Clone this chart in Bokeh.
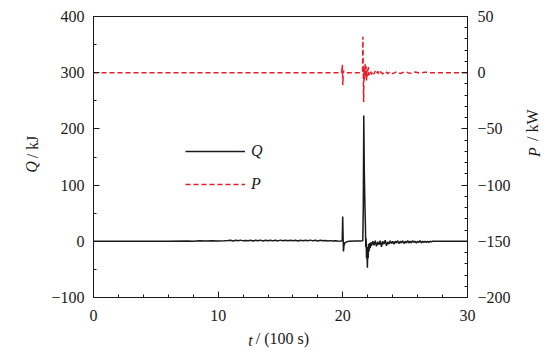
import math
from bokeh.plotting import figure
from bokeh.models import (Range1d, LinearAxis, SingleIntervalTicker, FixedTicker,
                          CustomJSTickFormatter, Legend, LegendItem)
from bokeh.embed import file_html
from bokeh.resources import INLINE

# ---- data ----
t_q = [0, 3, 6, 7.5, 8.0, 8.5, 9.0, 9.5, 10.0, 10.5, 10.8,
       11.0, 11.2, 11.4, 11.6, 11.8, 12.0, 12.2, 12.4, 12.6, 12.8,
       13.0, 13.2, 13.4, 13.6, 13.8, 14.0, 14.2, 14.4, 14.6, 14.8,
       15.0, 15.2, 15.4, 15.6, 15.8, 16.0, 16.2, 16.4, 16.6, 16.8,
       17.0, 17.2, 17.4, 17.6, 17.8, 18.0, 18.2, 18.4, 18.6, 18.8,
       19.0, 19.2, 19.4,
       19.6, 19.8, 19.95, 19.99, 20.02, 20.05, 20.09, 20.15, 20.3, 20.5,
       21.0, 21.4, 21.6, 21.64, 21.68, 21.72, 21.75, 21.78, 21.81, 21.84,
       21.87, 21.9, 21.93, 21.97, 22.0, 22.03, 22.06, 22.1, 22.14, 22.2,
       22.25,
       22.3, 22.4, 22.5, 22.6, 22.7, 22.8, 22.9, 23.0, 23.1, 23.2,
       23.3, 23.4, 23.5, 23.6, 23.7, 23.8, 23.9, 24.0, 24.1, 24.2,
       24.3, 24.4, 24.5, 24.6, 24.7, 24.8, 24.9, 25.0, 25.1, 25.2,
       25.3, 25.4, 25.5, 25.6, 25.7, 25.8, 25.9, 26.0, 26.1, 26.2,
       26.3, 26.4, 26.5, 26.6, 26.7, 26.8, 26.9, 27.0, 27.1, 27.2,
       28.0, 30.0]
q_kj = [0, 0.2, 0.3, 0.6, 0.3, 0.8, 0.4, 0.9, 0.5, 0.9, 1.3,
        2.0, 0.7, 1.8, 0.9, 2.1, 0.8, 1.6, 1.1, 2.0, 0.7,
        1.9, 1.0, 2.1, 0.6, 1.7, 1.0, 2.0, 0.8, 1.8, 0.7,
        2.1, 1.0, 1.9, 0.8, 1.7, 0.9, 2.0, 0.7, 1.8, 0.9,
        2.0, 1.0, 2.1, 0.8, 1.7, 0.7, 1.8, 0.8, 1.5, 0.5,
        1.2, 0.4, 1.0,
        0.5, 0.3, 1.0, 44, 10, -18, -8, -3, -1, 0,
        0.5, 0.5, 1.0, 60, 224, 130, 90, 55, 30, -10,
        5, -30, -10, -47, -15, -30, -5, -18, -3, -12,
        -2,
        -8, 0, -7, 1, -9, -1, -6, 1, -10, 0,
        -5, 2, -8, -1, -5, 1, -4, 0, -5, 0,
        -3, 1, -4, 0, -3, 1, -4, 0, -3, 1,
        -3, 0, -3, 1, -2, 0, -3, 0, -2, 1,
        -3, 0, -2, 0, -2, 0, -2, 0, -1, 0,
        0, 0]

t_p = [0, 19.9, 19.96, 20.0, 20.04, 20.1, 21.5, 21.58, 21.61, 21.64,
       21.67, 21.7, 21.74, 21.78, 21.82, 21.86, 21.9, 21.95, 22.0, 22.05,
       22.1, 22.2, 22.3, 22.4, 22.5, 22.6, 22.7, 22.8, 22.9, 23.0,
       23.2, 23.4, 23.6, 23.8, 24.0, 24.3, 24.6, 25.0, 25.4, 25.8,
       26.2, 26.6, 27.0, 30.0]
p_kw = [0, 0, 7, -11, 2, 0, 0, 1, 32, 0,
        -26, 4, -6, 8, -4, 6, -7, 3, -3, 5,
        -2, 1.5, -1.5, 1.2, -1.2, 1.5, -1.0, 1.2, -1.3, 1.0,
        -1.0, 1.2, -0.8, 1.0, -0.8, 0.8, -0.7, 0.8, -0.6, 0.6,
        -0.5, 0.5, 0, 0]

SERIF = "Liberation Serif"
BLACK = "#1a1a1a"
RED = "#e3202a"
NB = "\u00a0"

p = figure(width=559, height=360, output_backend="svg", toolbar_location=None,
           x_range=Range1d(0, 30), y_range=Range1d(-100, 400),
           min_border_left=93, min_border_right=92, min_border_top=16, min_border_bottom=63)
p.extra_y_ranges = {"p": Range1d(-200, 50)}
p.grid.visible = False
p.outline_line_color = BLACK
p.outline_line_width = 1
p.background_fill_color = "white"
p.border_fill_color = "white"

minus_fmt = CustomJSTickFormatter(code="return (tick < 0 ? '\u2212' : '') + Math.abs(tick);")

def style(ax, standoff, label, label_standoff):
    ax.axis_line_color = BLACK
    ax.major_tick_line_color = BLACK
    ax.minor_tick_line_color = BLACK
    ax.major_tick_in = 6
    ax.major_tick_out = 0
    ax.minor_tick_in = 3
    ax.minor_tick_out = 0
    ax.major_label_text_font = SERIF
    ax.major_label_text_font_size = "16px"
    ax.major_label_text_color = BLACK
    ax.major_label_standoff = standoff
    ax.formatter = minus_fmt
    ax.axis_label = label
    ax.axis_label_standoff = label_standoff
    ax.axis_label_text_font = SERIF
    ax.axis_label_text_font_size = "16px"
    ax.axis_label_text_font_style = "normal"
    ax.axis_label_text_color = BLACK

def symbol_axis(label, side, standoff, range_name=None):
    # an axis without line, ticks or tick labels: carries only the italic symbol
    kw = {"y_range_name": range_name} if range_name else {}
    ax = LinearAxis(ticker=FixedTicker(ticks=[]), axis_line_color=None,
                    major_tick_line_color=None, minor_tick_line_color=None,
                    major_label_text_font_size="0px", major_label_standoff=0,
                    major_tick_in=0, major_tick_out=0, minor_tick_in=0, minor_tick_out=0,
                    axis_label=label, axis_label_standoff=standoff,
                    axis_label_text_font=SERIF, axis_label_text_font_size="16px",
                    axis_label_text_font_style="italic", axis_label_text_color=BLACK, **kw)
    p.add_layout(ax, side)
    return ax

xa = p.xaxis[0]
xa.ticker = SingleIntervalTicker(interval=10, num_minor_ticks=5)
style(xa, 12, NB + "/ (100 s)", 6)
ya = p.yaxis[0]
ya.ticker = SingleIntervalTicker(interval=100, num_minor_ticks=2)
style(ya, 9, NB * 5 + "/ kJ", 7)
ra = LinearAxis(y_range_name="p", ticker=SingleIntervalTicker(interval=50, num_minor_ticks=5))
style(ra, 10, NB * 4 + "/ kW", 19)
p.add_layout(ra, "right")

symbol_axis("t" + NB * 15, "below", -18)
symbol_axis("Q" + NB * 5, "left", -18)
sr = symbol_axis("P", "right", -18, "p")
for ax in (ra, sr):
    ax.axis_label_orientation = math.pi / 2

lq = p.line(t_q, q_kj, line_color=BLACK, line_width=1.5)
lp = p.line(t_p, p_kw, y_range_name="p", line_color=RED, line_width=1.5, line_dash="5 3")

legend = Legend(items=[LegendItem(label="Q", renderers=[lq]), LegendItem(label="P", renderers=[lp])],
                location=(92, 103), glyph_width=60, glyph_height=20, label_height=20,
                spacing=13, padding=0, margin=0, label_standoff=6,
                label_text_font=SERIF, label_text_font_style="italic",
                label_text_font_size="16px", label_text_color=BLACK,
                border_line_color=None, background_fill_alpha=0)
p.add_layout(legend, "center")

open("out.html", "w").write(file_html(p, INLINE))
